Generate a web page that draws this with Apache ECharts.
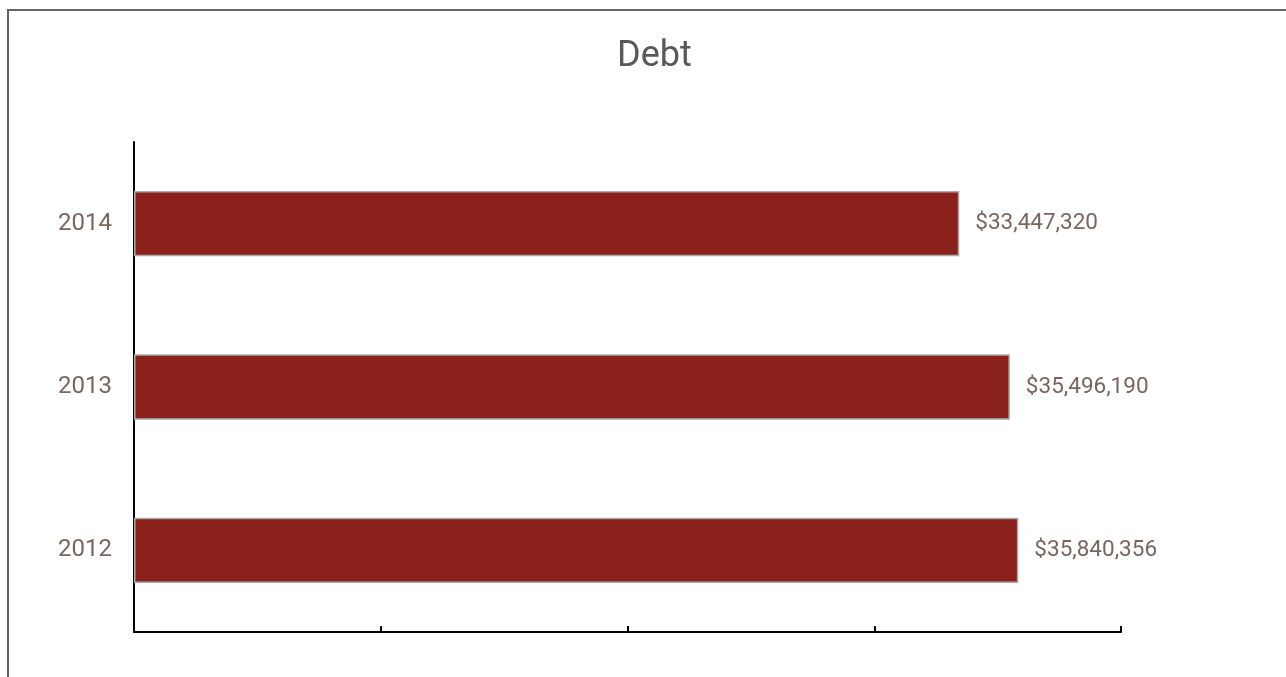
<!DOCTYPE html>
<html><head><meta charset="utf-8">
<script src="https://cdn.jsdelivr.net/npm/echarts@6/dist/echarts.min.js"></script>
<style>
html,body{margin:0;padding:0;background:#fff;overflow:hidden}
#frame{position:absolute;left:7px;top:9px;width:1400px;height:800px;border:2px solid #646464;box-sizing:border-box}
#chart{position:absolute;left:0;top:0;width:1286px;height:677px}
</style></head>
<body>
<div id="frame"></div>
<div id="chart"></div>
<script>
const categories = ['2012', '2013', '2014'];
const debtValues = [35840356, 35496190, 33447320];
const xTicks = [0, 10000000, 20000000, 30000000, 40000000];

const chart = echarts.init(document.getElementById('chart'));
const fmt = v => '$' + v.toLocaleString('en-US');
chart.setOption({
  animation: false,
  title: {
    text: 'Debt', left: 612, top: 34,
    textStyle: {fontFamily: 'Roboto', fontSize: 36, fontWeight: 'normal', color: '#595959'}
  },
  grid: {left: 134, right: 165, top: 142, bottom: 45, containLabel: false},
  xAxis: {
    type: 'value', min: xTicks[0], max: xTicks[xTicks.length - 1], interval: xTicks[1] - xTicks[0],
    axisLine: {show: true, lineStyle: {color: '#000', width: 2}},
    axisTick: {show: true, inside: true, length: 6, lineStyle: {color: '#000', width: 2}},
    axisLabel: {show: false},
    splitLine: {show: false}
  },
  yAxis: {
    type: 'category', data: categories,
    axisLine: {show: true, lineStyle: {color: '#000', width: 2}},
    axisTick: {show: false},
    axisLabel: {margin: 22, fontFamily: 'Roboto', fontSize: 24, color: '#77675f'}
  },
  series: [{
    type: 'bar', data: debtValues, barWidth: '40%',
    itemStyle: {color: '#8b211b', borderColor: '#ababab', borderWidth: 1.5},
    label: {
      show: true, position: 'right', distance: 16, formatter: p => fmt(p.value),
      fontFamily: 'Roboto', fontSize: 22.5, color: '#77675f'
    }
  }]
});
</script>
</body></html>
